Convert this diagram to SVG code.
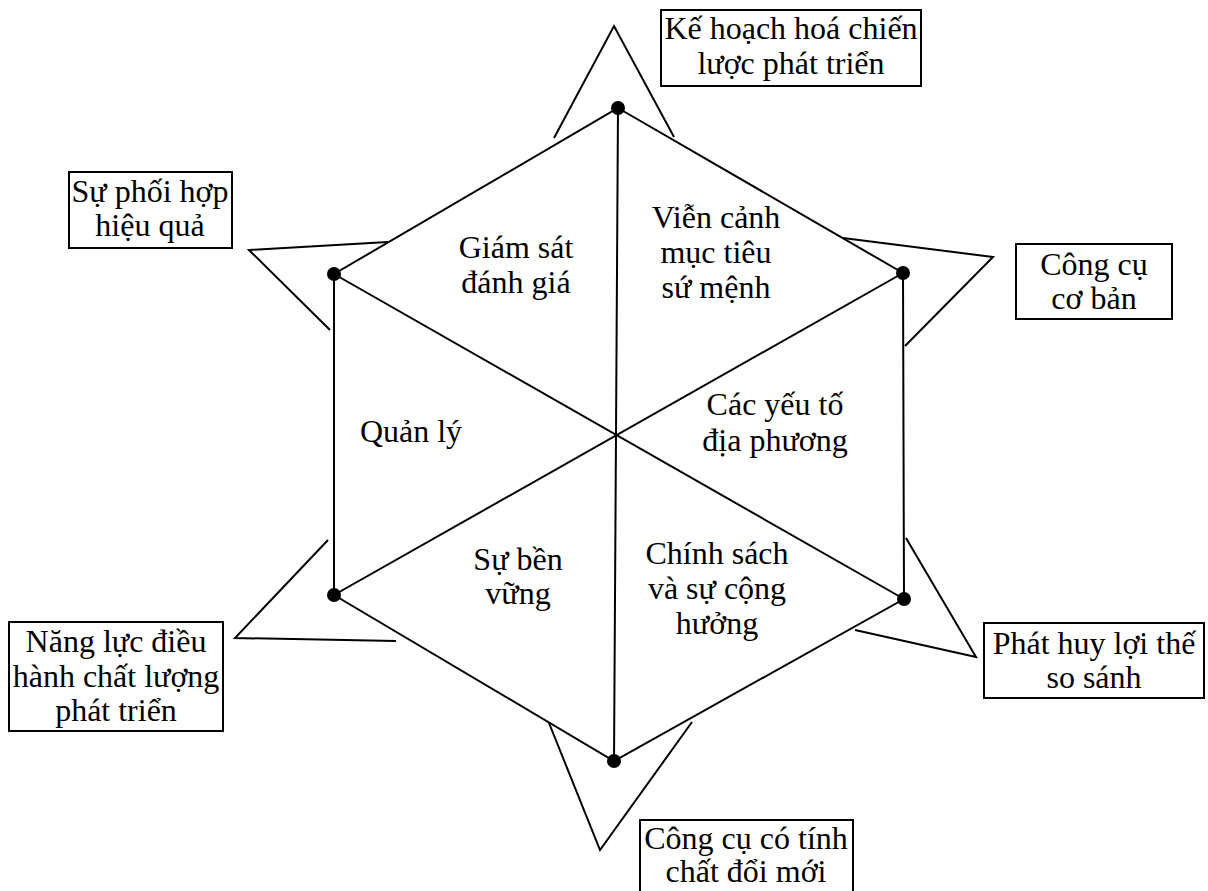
<svg xmlns="http://www.w3.org/2000/svg" width="1208" height="891" viewBox="0 0 1208 891">
<style>
.ln{fill:none;stroke:#000;stroke-width:2;stroke-linejoin:miter}
.bx{fill:#fff;stroke:#000;stroke-width:2}
text{font-family:'Liberation Serif','DejaVu Serif',serif;font-size:32px;fill:#000;text-anchor:middle}
.dot{fill:#000}
</style>
<rect width="1208" height="891" fill="#fff"/>
<g id="connectors">
<polygon class="ln" points="618,108 903,273 904,599 614,761 334,595 334,274"/>
<line class="ln" x1="618" y1="108" x2="614" y2="761"/>
<line class="ln" x1="334" y1="274" x2="904" y2="599"/>
<line class="ln" x1="903" y1="273" x2="334" y2="595"/>
<polyline class="ln" points="554,138 614,26 674,137"/>
<polyline class="ln" points="388,242 249,250 330,330"/>
<polyline class="ln" points="843,238 993,257 905,346"/>
<polyline class="ln" points="906,538 976,657 855,630"/>
<polyline class="ln" points="328,540 235,638 396,641"/>
<polyline class="ln" points="549,723 600,850 692,722"/>
</g>
<g id="vertices">
<circle class="dot" cx="618" cy="108" r="7"/>
<circle class="dot" cx="903" cy="273" r="7"/>
<circle class="dot" cx="904" cy="599" r="7"/>
<circle class="dot" cx="614" cy="761" r="7"/>
<circle class="dot" cx="334" cy="595" r="7"/>
<circle class="dot" cx="334" cy="274" r="7"/>
</g>
<g font-family="Liberation Serif, serif">
<g id="seg-giam-sat"><text x="516" y="258">Giám sát</text><text x="516" y="293">đánh giá</text></g>
<g id="seg-vien-canh"><text x="716" y="228">Viễn cảnh</text><text x="716" y="263">mục tiêu</text><text x="716" y="298">sứ mệnh</text></g>
<g id="seg-quan-ly"><text x="411" y="442">Quản lý</text></g>
<g id="seg-cac-yeu-to"><text x="775" y="415">Các yếu tố</text><text x="775" y="451">địa phương</text></g>
<g id="seg-su-ben-vung"><text x="518" y="570">Sự bền</text><text x="518" y="604">vững</text></g>
<g id="seg-chinh-sach"><text x="717" y="564">Chính sách</text><text x="717" y="599">và sự cộng</text><text x="717" y="634">hưởng</text></g>
<g id="box-ke-hoach"><rect class="bx" x="661" y="10" width="260" height="76"/><text x="791" y="39">Kế hoạch hoá chiến</text><text x="791" y="74">lược phát triển</text></g>
<g id="box-phoi-hop"><rect class="bx" x="69" y="172" width="163" height="76"/><text x="150" y="202">Sự phối hợp</text><text x="150" y="236">hiệu quả</text></g>
<g id="box-cong-cu"><rect class="bx" x="1016" y="244" width="156" height="75"/><text x="1094" y="275">Công cụ</text><text x="1094" y="309">cơ bản</text></g>
<g id="box-phat-huy"><rect class="bx" x="984" y="623" width="220" height="75"/><text x="1094" y="654">Phát huy lợi thế</text><text x="1094" y="688">so sánh</text></g>
<g id="box-nang-luc"><rect class="bx" x="9" y="622" width="214" height="109"/><text x="116" y="652">Năng lực điều</text><text x="116" y="687">hành chất lượng</text><text x="116" y="721">phát triển</text></g>
<g id="box-doi-moi"><rect class="bx" x="640" y="820" width="213" height="80"/><text x="746" y="849">Công cụ có tính</text><text x="746" y="882">chất đổi mới</text></g>
</g>
</svg>
